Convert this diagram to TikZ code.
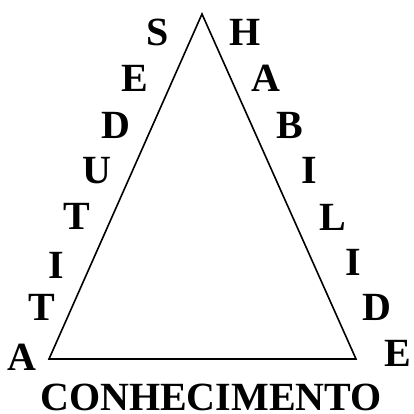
\documentclass[tikz,border=0pt]{standalone}
\usepackage{fontspec}
\setmainfont{Liberation Serif}
\begin{document}
\begin{tikzpicture}[x=1pt, y=-1pt, letter/.style={font=\fontsize{40}{42}\selectfont\bfseries, inner sep=0pt}]
\useasboundingbox (0,0) rectangle (413,414);
% triangle
\coordinate (top) at (202,14);
\coordinate (bl) at (49,359);
\coordinate (br) at (356,359);
\draw[line width=1.6pt, line join=miter] (bl) -- (top) -- (br) -- cycle;
% ATITUDES, left side
\node[letter] (at1) at (22,357) {A};
\node[letter] (at2) at (42,307) {T};
\node[letter] (at3) at (56,265) {I};
\node[letter] (at4) at (77,216) {T};
\node[letter] (at5) at (97,171) {U};
\node[letter] (at6) at (116,125) {D};
\node[letter] (at7) at (135,78) {E};
\node[letter] (at8) at (158,32) {S};
% HABILIDADE, right side
\node[letter] (hab1) at (245,32) {H};
\node[letter] (hab2) at (266,78) {A};
\node[letter] (hab3) at (290,125) {B};
\node[letter] (hab4) at (309,170) {I};
\node[letter] (hab5) at (333,217) {L};
\node[letter] (hab6) at (353,262) {I};
\node[letter] (hab7) at (377,307) {D};
\node[letter] (hab8) at (398,353) {E};
% base
\node[letter] (conh) at (211,397) {CONHECIMENTO};
\end{tikzpicture}
\end{document}
